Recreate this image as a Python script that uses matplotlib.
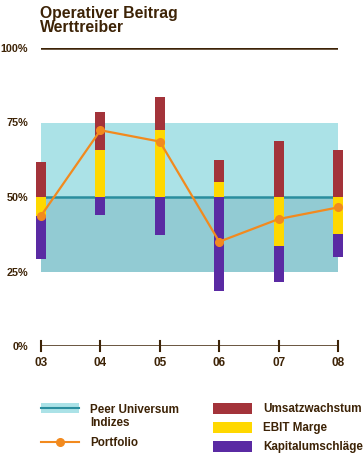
import numpy as np
import matplotlib.pyplot as plt
from matplotlib.patches import Rectangle

# ---- data (percent) ----
years = ["03", "04", "05", "06", "07", "08"]
# signed contributions measured from the 50% baseline
umsatz = [11.8, 12.7, 11.2, 7.6, 18.8, 15.8]
ebit = [-6.4, 15.8, 22.5, 4.9, -16.4, -12.5]
kapital = [-14.4, -6.0, -12.8, -31.5, -12.2, -7.6]
portfolio = [43.7, 72.4, 68.6, 35.0, 42.6, 46.5]
peer_low, peer_mid, peer_high = 25, 50, 75
yticks = [0, 25, 50, 75, 100]

plt.rcParams["font.family"] = ["Liberation Sans", "DejaVu Sans"]

brown = "#3d2306"
c_red = "#a3333a"
c_yel = "#ffd800"
c_pur = "#5a2aa3"
c_org = "#f28a1e"
c_teal_hi = "#abe2e7"
c_teal_lo = "#92cbd3"
c_teal_ln = "#2a8e9e"

W, H = 363, 453
fig = plt.figure(figsize=(W / 100, H / 100), dpi=100)
ax = fig.add_axes([41 / W, (H - 346) / H, 297 / W, 298 / H])
x = np.arange(len(years))
ax.set_xlim(0, len(years) - 1)
ax.set_ylim(0, 100)
for s in ax.spines.values():
    s.set_visible(False)

# peer universe band
ax.axhspan(peer_mid, peer_high, color=c_teal_hi, lw=0, zorder=1)
ax.axhspan(peer_low, peer_mid, color=c_teal_lo, lw=0, zorder=1)
ax.axhline(peer_mid, color=c_teal_ln, lw=1.8, zorder=2)

# stacked drivers: positive stack upwards, negative downwards from 50
bw = 0.17
for i in range(len(years)):
    up, dn = peer_mid, peer_mid
    for v, c in [(ebit[i], c_yel), (umsatz[i], c_red), (kapital[i], c_pur)]:
        if v >= 0:
            ax.bar(x[i], v, bw, bottom=up, color=c, lw=0, zorder=3, clip_on=False)
            up += v
        else:
            ax.bar(x[i], v, bw, bottom=dn, color=c, lw=0, zorder=3, clip_on=False)
            dn += v

ax.plot(x, portfolio, color=c_org, lw=1.6, marker="o", ms=5.5, zorder=4, clip_on=False)

# top and bottom lines
ax.axhline(100, color=brown, lw=1.8, zorder=2)
ax.axhline(0, color=brown, lw=1.8, zorder=2)
for xi in x:
    ax.plot([xi, xi], [-1.6, 1.6], color=brown, lw=1.5, clip_on=False, zorder=2)

ax.set_xticks(x)
ax.set_xticklabels(years, fontsize=8.5, fontweight="bold", color=brown)
ax.set_yticks(yticks)
ax.set_yticklabels([f"{t}%" for t in yticks], fontsize=7.8, fontweight="bold", color=brown)
ax.tick_params(axis="both", length=0)
ax.tick_params(axis="y", pad=9.4)
ax.tick_params(axis="x", pad=8)

tt = dict(fontsize=11.3, fontweight="bold", color=brown, va="baseline", ha="left")
fig.text(40 / W, 1 - 18 / H, "Operativer Beitrag", **tt)
fig.text(40 / W, 1 - 32 / H, "Werttreiber", **tt)

# legend area in pixel coordinates
lg = fig.add_axes([0, 0, 1, 1], zorder=-1)
lg.set_xlim(0, W)
lg.set_ylim(H, 0)
lg.axis("off")
lg.add_patch(Rectangle((41, 403), 38, 10, color=c_teal_hi, lw=0))
lg.plot([41, 79], [408, 408], color=c_teal_ln, lw=1.5)
lg.plot([41, 79], [442, 442], color=c_org, lw=1.5)
lg.plot([60], [442], "o", color=c_org, ms=5.5)
for yy, c in [(403, c_red), (422, c_yel), (441, c_pur)]:
    lg.add_patch(Rectangle((213, yy), 39, 10.5, color=c, lw=0))
tk = dict(fontsize=8.4, fontweight="bold", color=brown, va="baseline", ha="left")
lg.text(90, 413, "Peer Universum", **tk)
lg.text(90, 426.5, "Indizes", **tk)
lg.text(90, 446, "Portfolio", **tk)
lg.text(263, 412, "Umsatzwachstum", **tk)
lg.text(263, 431.5, "EBIT Marge", **tk)
lg.text(263, 450, "Kapitalumschläge", **tk)

fig.savefig("out.png", dpi=100)
